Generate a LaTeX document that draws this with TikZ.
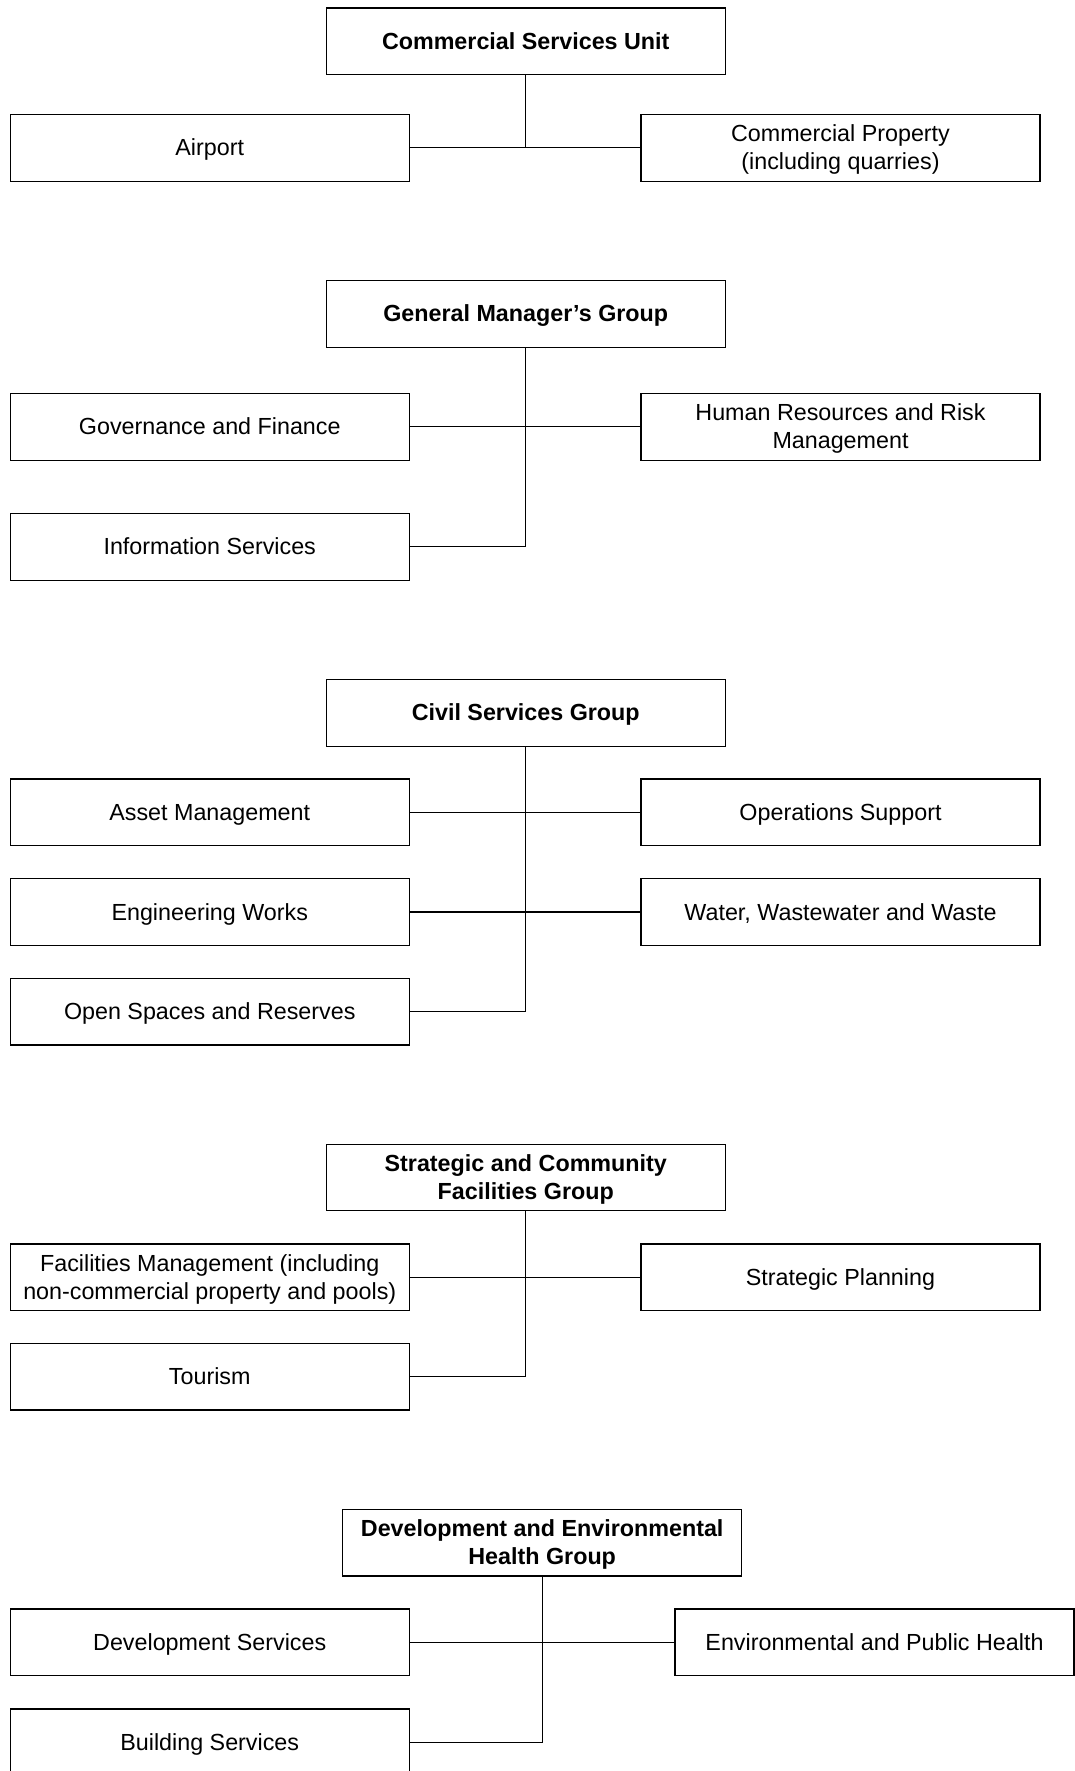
\documentclass[tikz,border=0pt]{standalone}
\usepackage{fontspec}
\setmainfont{Liberation Sans}
% line-box strut: full ascent and descent of the font
\newcommand{\linestrut}{\rule[-0.212em]{0pt}{1.117em}}
\begin{document}
\begin{tikzpicture}[x=1pt,y=-1pt,
  unit/.style={draw=black,line width=1.2pt,minimum width=399pt,minimum height=66.5pt,
    inner sep=0pt,align=center,font=\fontsize{23.3}{28}\selectfont,
    execute at begin node=\linestrut, execute at end node=\linestrut},
  head/.style={unit,font=\fontsize{23.3}{28}\selectfont\bfseries},
  link/.style={line width=1.1pt}]
\useasboundingbox[fill=white] (0,0) rectangle (1075,1771);

% Commercial Services Unit
\node[head] (csu) at (525.75,41.3) {Commercial Services Unit};
\node[unit] (air) at (209.75,147.9) {Airport};
\node[unit] (cprop) at (840.5,147.9) {\linestrut Commercial Property\\(including quarries)};
\draw[link] (csu.south) -- (csu.south |- air.east);
\draw[link] (air.east) -- (cprop.west);

% General Manager's Group
\node[head] (gmg) at (525.75,313.9) {General Manager’s Group};
\node[unit] (gov) at (209.75,426.9) {Governance and Finance};
\node[unit] (hr) at (840.5,426.9) {\linestrut Human Resources and Risk\\Management};
\node[unit] (info) at (209.75,546.9) {Information Services};
\draw[link] (gmg.south) |- (info.east);
\draw[link] (gov.east) -- (hr.west);

% Civil Services Group
\node[head] (csg) at (525.75,712.9) {Civil Services Group};
\node[unit] (asset) at (209.75,812.2) {Asset Management};
\node[unit] (ops) at (840.5,812.2) {Operations Support};
\node[unit] (eng) at (209.75,912) {Engineering Works};
\node[unit] (water) at (840.5,912) {Water, Wastewater and Waste};
\node[unit] (open) at (209.75,1011.7) {Open Spaces and Reserves};
\draw[link] (csg.south) |- (open.east);
\draw[link] (asset.east) -- (ops.west);
\draw[link] (eng.east) -- (water.west);

% Strategic and Community Facilities Group
\node[head] (scfg) at (525.75,1177.4) {\linestrut Strategic and Community\\Facilities Group};
\node[unit] (fac) at (209.75,1277.2) {\linestrut Facilities Management (including\\non-commercial property and pools)};
\node[unit] (splan) at (840.5,1277.2) {Strategic Planning};
\node[unit] (tour) at (209.75,1376.7) {Tourism};
\draw[link] (scfg.south) |- (tour.east);
\draw[link] (fac.east) -- (splan.west);

% Development and Environmental Health Group
\node[head] (dehg) at (542.2,1542.8) {\linestrut Development and Environmental\\Health Group};
\node[unit] (dev) at (209.75,1642.3) {Development Services};
\node[unit] (eph) at (874.5,1642.3) {Environmental and Public Health};
\node[unit] (build) at (209.75,1742.2) {Building Services};
\draw[link] (dehg.south) |- (build.east);
\draw[link] (dev.east) -- (eph.west);
\end{tikzpicture}
\end{document}
